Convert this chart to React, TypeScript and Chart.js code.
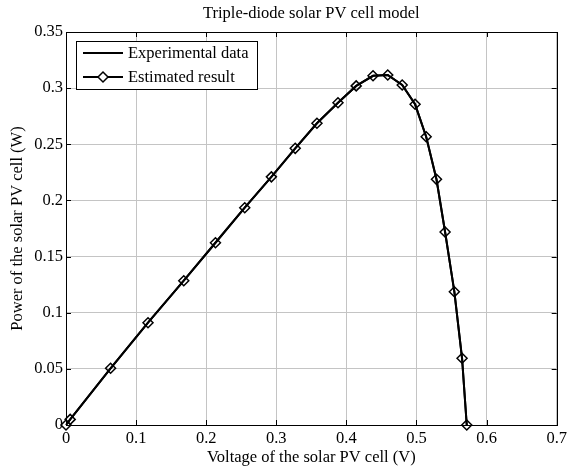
import React, { useEffect, useRef } from "react";
import { Chart, registerables } from "chart.js";

Chart.register(...registerables);

const titleText = "Triple-diode solar PV cell model";
const xAxisLabel = "Voltage of the solar PV cell (V)";
const yAxisLabel = "Power of the solar PV cell (W)";
const seriesNames = ["Experimental data", "Estimated result"];

const xTicks = [0, 0.1, 0.2, 0.3, 0.4, 0.5, 0.6, 0.7];
const yTicks = [0, 0.05, 0.1, 0.15, 0.2, 0.25, 0.3, 0.35];

const expVoltage = [0, 0.006, 0.0636, 0.117, 0.168, 0.2132, 0.255, 0.293, 0.327, 0.358, 0.388, 0.414, 0.438, 0.459, 0.4796, 0.498, 0.5138, 0.5285, 0.5408, 0.554, 0.565, 0.5717];
const expPower = [0, 0.005, 0.0505, 0.0911, 0.1285, 0.1623, 0.1935, 0.221, 0.2464, 0.2687, 0.287, 0.302, 0.311, 0.3117, 0.3028, 0.2856, 0.2567, 0.2188, 0.1719, 0.1187, 0.0594, 0];

const estVoltage = [0, 0.006, 0.0636, 0.117, 0.168, 0.2132, 0.255, 0.293, 0.327, 0.358, 0.388, 0.414, 0.438, 0.459, 0.4796, 0.498, 0.5138, 0.5285, 0.5408, 0.554, 0.565, 0.5717];
const estPower = [0, 0.005, 0.0505, 0.0911, 0.1285, 0.1623, 0.1935, 0.221, 0.2464, 0.2687, 0.287, 0.302, 0.311, 0.3117, 0.3028, 0.2856, 0.2567, 0.2188, 0.1719, 0.1187, 0.0594, 0];

const FONT = "'Liberation Serif', 'Times New Roman', serif";
const FS = 16.5;

const fmt = (v: number) => String(Number(Number(v).toFixed(2)));

const framePlugin = {
  id: "matlabFrame",
  afterDraw(chart: any) {
    const { ctx, chartArea, scales } = chart;
    const { left, right, top, bottom } = chartArea;
    ctx.save();
    // inward ticks
    ctx.strokeStyle = "#000";
    ctx.lineWidth = 1;
    const tl = 5;
    ctx.beginPath();
    xTicks.forEach((v) => {
      const x = Math.round(scales.x.getPixelForValue(v)) + 0.5;
      ctx.moveTo(x, bottom);
      ctx.lineTo(x, bottom - tl);
      ctx.moveTo(x, top);
      ctx.lineTo(x, top + tl);
    });
    yTicks.forEach((v) => {
      const y = Math.round(scales.y.getPixelForValue(v)) + 0.5;
      ctx.moveTo(left, y);
      ctx.lineTo(left + tl, y);
      ctx.moveTo(right, y);
      ctx.lineTo(right - tl, y);
    });
    ctx.stroke();
    // frame
    ctx.strokeRect(Math.round(left) + 0.5, Math.round(top) + 0.5, Math.round(right - left), Math.round(bottom - top));

    // title
    ctx.fillStyle = "#000";
    ctx.font = `${FS}px ${FONT}`;
    ctx.textAlign = "center";
    ctx.textBaseline = "middle";
    ctx.fillText(titleText, (left + right) / 2, 14);

    // legend
    const bx = 76.5, by = 41.5, bw = 181, bh = 48;
    ctx.fillStyle = "#fff";
    ctx.fillRect(bx, by, bw, bh);
    ctx.strokeStyle = "#000";
    ctx.lineWidth = 1;
    ctx.strokeRect(bx, by, bw, bh);
    const rows = [53, 77];
    ctx.lineWidth = 2;
    rows.forEach((ry) => {
      ctx.beginPath();
      ctx.moveTo(83, ry);
      ctx.lineTo(123, ry);
      ctx.stroke();
    });
    // diamond marker
    const mx = 103, my = rows[1], r = 5;
    ctx.lineWidth = 1.5;
    ctx.beginPath();
    ctx.moveTo(mx - r, my);
    ctx.lineTo(mx, my - r);
    ctx.lineTo(mx + r, my);
    ctx.lineTo(mx, my + r);
    ctx.closePath();
    ctx.fillStyle = "#fff";
    ctx.fill();
    ctx.stroke();
    ctx.fillStyle = "#000";
    ctx.textAlign = "left";
    ctx.textBaseline = "middle";
    ctx.fillText(seriesNames[0], 128, rows[0] + 1);
    ctx.fillText(seriesNames[1], 128, rows[1] + 1);
    ctx.restore();
  },
};

export default function App() {
  const ref = useRef<HTMLCanvasElement>(null);
  useEffect(() => {
    if (!ref.current) return;
    const chart = new Chart(ref.current, {
      type: "line",
      data: {
        datasets: [
          {
            label: seriesNames[0],
            data: expVoltage.map((x, i) => ({ x, y: expPower[i] })),
            borderColor: "#000",
            borderWidth: 2,
            pointRadius: 0,
            fill: false,
            tension: 0,
          },
          {
            label: seriesNames[1],
            data: estVoltage.map((x, i) => ({ x, y: estPower[i] })),
            borderColor: "#000",
            borderWidth: 2,
            pointStyle: "rectRot",
            pointRadius: 5,
            pointBorderWidth: 1.5,
            pointBorderColor: "#000",
            pointBackgroundColor: "rgba(255,255,255,0)",
            fill: false,
            tension: 0,
            clip: false,
          },
        ],
      },
      options: {
        responsive: false,
        animation: false,
        layout: { padding: { top: 32, right: 14, left: 0, bottom: 0 } },
        plugins: {
          legend: { display: false },
          title: { display: false },
          tooltip: { enabled: false },
        },
        scales: {
          x: {
            type: "linear",
            min: 0,
            max: 0.7,
            afterBuildTicks: (s: any) => {
              s.ticks = xTicks.map((v) => ({ value: v }));
            },
            afterFit: (s: any) => {
              s.height = 44;
            },
            grid: { color: "#c4c4c4", lineWidth: 1, drawTicks: false },
            border: { display: false },
            ticks: {
              color: "#000",
              padding: 4,
              font: { family: FONT, size: FS },
              callback: (v: any) => fmt(v),
              maxRotation: 0,
            },
            title: {
              display: true,
              text: xAxisLabel,
              color: "#000",
              font: { family: FONT, size: FS },
              padding: { top: 0, bottom: 1 },
            },
          },
          y: {
            type: "linear",
            min: 0,
            max: 0.35,
            afterBuildTicks: (s: any) => {
              s.ticks = yTicks.map((v) => ({ value: v }));
            },
            afterFit: (s: any) => {
              s.width = 66;
            },
            grid: { color: "#c4c4c4", lineWidth: 1, drawTicks: false },
            border: { display: false },
            ticks: {
              color: "#000",
              padding: 3,
              font: { family: FONT, size: FS },
              callback: (v: any) => fmt(v),
            },
            title: {
              display: true,
              text: yAxisLabel,
              color: "#000",
              font: { family: FONT, size: FS },
              padding: { top: 8, bottom: 0 },
            },
          },
        },
      },
      plugins: [framePlugin],
    });
    return () => chart.destroy();
  }, []);
  return (
    <div style={{ position: "absolute", left: 0, top: 0, width: 571, height: 469, background: "#fff" }}>
      <canvas ref={ref} width={571} height={469} style={{ display: "block" }} />
    </div>
  );
}
